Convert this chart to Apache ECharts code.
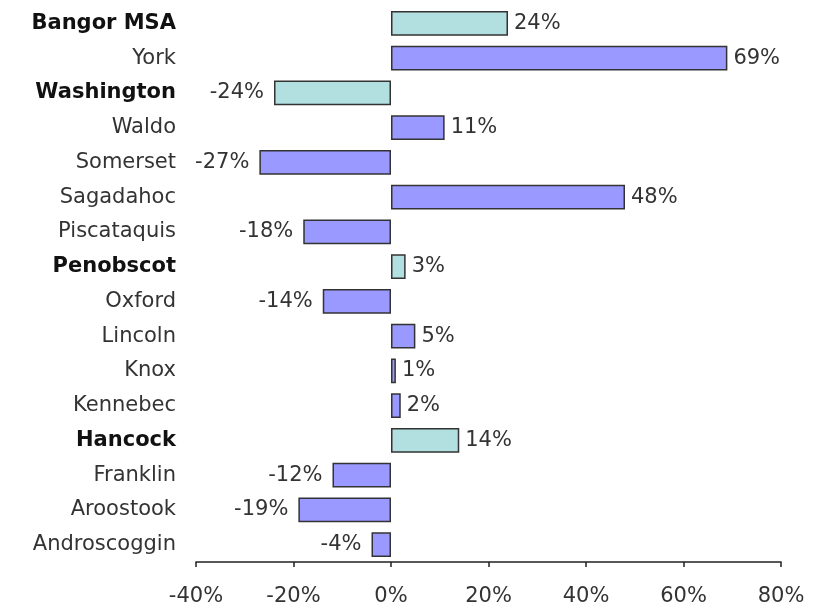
<!DOCTYPE html>
<html>
<head>
<meta charset="utf-8">
<script src="https://cdn.jsdelivr.net/npm/echarts@6/dist/echarts.min.js"></script>
<style>
  html, body { margin: 0; padding: 0; background: #fff; }
  #chart { width: 827px; height: 607px; }
</style>
</head>
<body>
<div id="chart"></div>
<script>
// categories listed bottom to top
var counties = ['Androscoggin', 'Aroostook', 'Franklin', 'Hancock', 'Kennebec', 'Knox',
    'Lincoln', 'Oxford', 'Penobscot', 'Piscataquis', 'Sagadahoc', 'Somerset',
    'Waldo', 'Washington', 'York', 'Bangor MSA'];
var changes = [-4, -19, -12, 14, 2, 1, 5, -14, 3, -18, 48, -27, 11, -24, 69, 24];
var highlighted = ['Hancock', 'Penobscot', 'Washington', 'Bangor MSA'];
var xTicks = [-40, -20, 0, 20, 40, 60, 80];

var FONT = '"DejaVu Sans", Verdana, sans-serif';

var myChart = echarts.init(document.getElementById('chart'));

var barData = changes.map(function (v, i) {
    var hl = highlighted.indexOf(counties[i]) >= 0;
    return {
        value: v,
        itemStyle: {color: hl ? '#b2dfdf' : '#9999ff'},
        label: {
            position: v < 0 ? 'left' : 'right',
            distance: v < 0 ? 10 : 6
        }
    };
});

var option = {
    animation: false,
    grid: {left: 196, right: 46, top: 6, bottom: 41},
    xAxis: {
        type: 'value',
        min: xTicks[0],
        max: xTicks[xTicks.length - 1],
        interval: 20,
        splitLine: {show: false},
        axisLine: {show: true, lineStyle: {color: '#222', width: 1.5}},
        axisTick: {show: true, length: 5, lineStyle: {color: '#222', width: 1.5}},
        axisLabel: {
            margin: 24,
            fontFamily: FONT,
            fontSize: 21,
            color: '#333',
            formatter: function (v) { return v + '%'; }
        }
    },
    yAxis: {
        type: 'category',
        data: counties,
        axisLine: {show: false},
        axisTick: {show: false},
        axisLabel: {
            margin: 20,
            fontFamily: FONT,
            fontSize: 21,
            color: '#333',
            formatter: function (name) {
                return highlighted.indexOf(name) >= 0 ? '{b|' + name + '}' : name;
            },
            rich: {
                b: {fontFamily: FONT, fontSize: 21, fontWeight: 'bold', color: '#111'}
            }
        }
    },
    series: [{
        type: 'bar',
        data: barData,
        barCategoryGap: '29%',
        itemStyle: {borderColor: '#333', borderWidth: 1.5},
        label: {
            show: true,
            fontFamily: FONT,
            fontSize: 21,
            color: '#333',
            formatter: function (p) { return p.value + '%'; }
        }
    }]
};

myChart.setOption(option);
</script>
</body>
</html>
